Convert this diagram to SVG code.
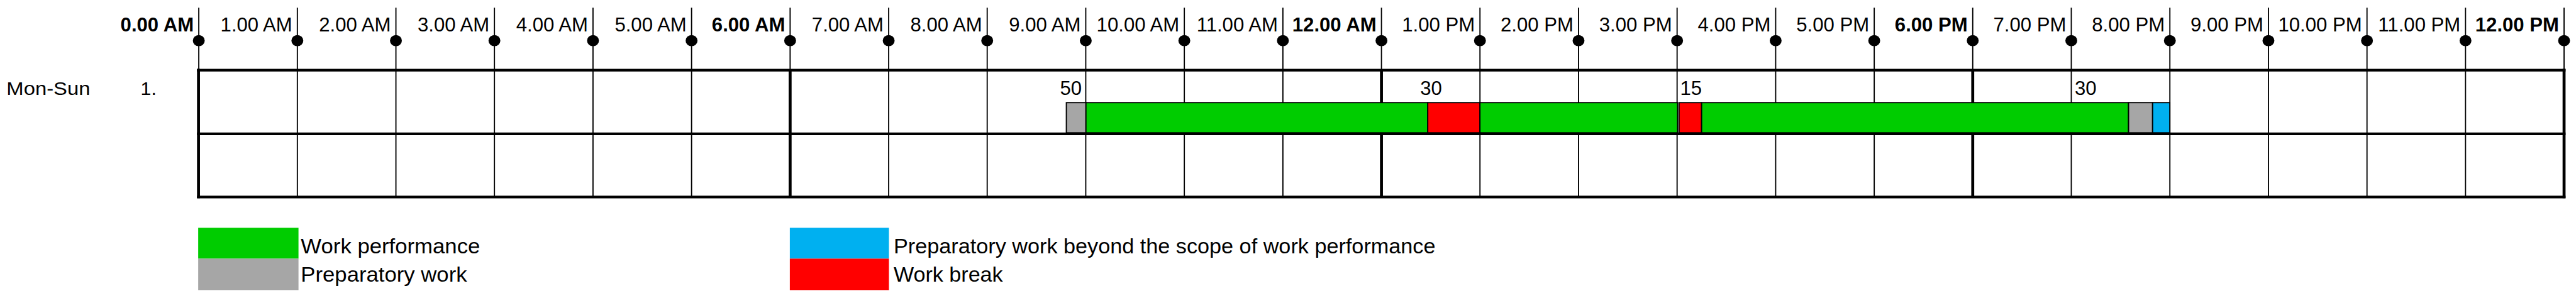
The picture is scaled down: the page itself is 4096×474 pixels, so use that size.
<svg xmlns="http://www.w3.org/2000/svg" width="4096" height="474" viewBox="0 0 4096 474">
<style>
text{font-family:"Liberation Sans",Arial,sans-serif;fill:#000}
.hl{font-size:33px;text-anchor:end}
.b{font-weight:bold}
.num{font-size:33px;text-anchor:end}
.lg{font-size:35px}
.tick{stroke:#000;stroke-width:2}
.vt{stroke:#000;stroke-width:2}
.vk{stroke:#000;stroke-width:5}
.hz{stroke:#000;stroke-width:4.5}
.seg{stroke:#000;stroke-width:2}
.g{fill:#00CC00}.p{fill:#A6A6A6}.r{fill:#FF0000}.c{fill:#00B0F0}
</style>
<rect x="0" y="0" width="4096" height="474" fill="#fff"/>
<g transform="scale(0.94356)">
<g id="row-label">
<text x="11" y="160" font-size="32" textLength="141" lengthAdjust="spacingAndGlyphs">Mon-Sun</text>
<text x="237" y="160" font-size="32">1.</text>
</g>
<g id="time-axis">
<g class="tick">
<line x1="335" y1="13" x2="335" y2="118"/><line x1="501.1" y1="13" x2="501.1" y2="118"/><line x1="667.2" y1="13" x2="667.2" y2="118"/><line x1="833.2" y1="13" x2="833.2" y2="118"/><line x1="999.3" y1="13" x2="999.3" y2="118"/><line x1="1165.4" y1="13" x2="1165.4" y2="118"/><line x1="1331.5" y1="13" x2="1331.5" y2="118"/><line x1="1497.6" y1="13" x2="1497.6" y2="118"/><line x1="1663.6" y1="13" x2="1663.6" y2="118"/><line x1="1829.7" y1="13" x2="1829.7" y2="118"/><line x1="1995.8" y1="13" x2="1995.8" y2="118"/><line x1="2161.9" y1="13" x2="2161.9" y2="118"/><line x1="2328" y1="13" x2="2328" y2="118"/><line x1="2494" y1="13" x2="2494" y2="118"/><line x1="2660.1" y1="13" x2="2660.1" y2="118"/><line x1="2826.2" y1="13" x2="2826.2" y2="118"/><line x1="2992.3" y1="13" x2="2992.3" y2="118"/><line x1="3158.4" y1="13" x2="3158.4" y2="118"/><line x1="3324.4" y1="13" x2="3324.4" y2="118"/><line x1="3490.5" y1="13" x2="3490.5" y2="118"/><line x1="3656.6" y1="13" x2="3656.6" y2="118"/><line x1="3822.7" y1="13" x2="3822.7" y2="118"/><line x1="3988.8" y1="13" x2="3988.8" y2="118"/><line x1="4154.8" y1="13" x2="4154.8" y2="118"/><line x1="4320.9" y1="13" x2="4320.9" y2="118"/>
</g>
<g fill="#000">
<ellipse cx="335" cy="68.5" rx="10" ry="9.5"/><ellipse cx="501.1" cy="68.5" rx="10" ry="9.5"/><ellipse cx="667.2" cy="68.5" rx="10" ry="9.5"/><ellipse cx="833.2" cy="68.5" rx="10" ry="9.5"/><ellipse cx="999.3" cy="68.5" rx="10" ry="9.5"/><ellipse cx="1165.4" cy="68.5" rx="10" ry="9.5"/><ellipse cx="1331.5" cy="68.5" rx="10" ry="9.5"/><ellipse cx="1497.6" cy="68.5" rx="10" ry="9.5"/><ellipse cx="1663.6" cy="68.5" rx="10" ry="9.5"/><ellipse cx="1829.7" cy="68.5" rx="10" ry="9.5"/><ellipse cx="1995.8" cy="68.5" rx="10" ry="9.5"/><ellipse cx="2161.9" cy="68.5" rx="10" ry="9.5"/><ellipse cx="2328" cy="68.5" rx="10" ry="9.5"/><ellipse cx="2494" cy="68.5" rx="10" ry="9.5"/><ellipse cx="2660.1" cy="68.5" rx="10" ry="9.5"/><ellipse cx="2826.2" cy="68.5" rx="10" ry="9.5"/><ellipse cx="2992.3" cy="68.5" rx="10" ry="9.5"/><ellipse cx="3158.4" cy="68.5" rx="10" ry="9.5"/><ellipse cx="3324.4" cy="68.5" rx="10" ry="9.5"/><ellipse cx="3490.5" cy="68.5" rx="10" ry="9.5"/><ellipse cx="3656.6" cy="68.5" rx="10" ry="9.5"/><ellipse cx="3822.7" cy="68.5" rx="10" ry="9.5"/><ellipse cx="3988.8" cy="68.5" rx="10" ry="9.5"/><ellipse cx="4154.8" cy="68.5" rx="10" ry="9.5"/><ellipse cx="4320.9" cy="68.5" rx="10" ry="9.5"/>
</g>
<g class="hl">
<text class="b" x="326.5" y="53">0.00 AM</text>
<text x="492.6" y="53">1.00 AM</text>
<text x="658.7" y="53">2.00 AM</text>
<text x="824.7" y="53">3.00 AM</text>
<text x="990.8" y="53">4.00 AM</text>
<text x="1156.9" y="53">5.00 AM</text>
<text class="b" x="1323" y="53">6.00 AM</text>
<text x="1489.1" y="53">7.00 AM</text>
<text x="1655.1" y="53">8.00 AM</text>
<text x="1821.2" y="53">9.00 AM</text>
<text x="1987.3" y="53">10.00 AM</text>
<text x="2153.4" y="53">11.00 AM</text>
<text class="b" x="2319.5" y="53">12.00 AM</text>
<text x="2485.5" y="53">1.00 PM</text>
<text x="2651.6" y="53">2.00 PM</text>
<text x="2817.7" y="53">3.00 PM</text>
<text x="2983.8" y="53">4.00 PM</text>
<text x="3149.9" y="53">5.00 PM</text>
<text class="b" x="3315.9" y="53">6.00 PM</text>
<text x="3482" y="53">7.00 PM</text>
<text x="3648.1" y="53">8.00 PM</text>
<text x="3814.2" y="53">9.00 PM</text>
<text x="3980.3" y="53">10.00 PM</text>
<text x="4146.3" y="53">11.00 PM</text>
<text class="b" x="4312.4" y="53">12.00 PM</text>
</g>
</g>
<g id="grid">
<g class="vt">
<line x1="501.1" y1="118" x2="501.1" y2="332"/><line x1="667.2" y1="118" x2="667.2" y2="332"/><line x1="833.2" y1="118" x2="833.2" y2="332"/><line x1="999.3" y1="118" x2="999.3" y2="332"/><line x1="1165.4" y1="118" x2="1165.4" y2="332"/><line x1="1497.6" y1="118" x2="1497.6" y2="332"/><line x1="1663.6" y1="118" x2="1663.6" y2="332"/><line x1="1829.7" y1="118" x2="1829.7" y2="332"/><line x1="1995.8" y1="118" x2="1995.8" y2="332"/><line x1="2161.9" y1="118" x2="2161.9" y2="332"/><line x1="2494" y1="118" x2="2494" y2="332"/><line x1="2660.1" y1="118" x2="2660.1" y2="332"/><line x1="2826.2" y1="118" x2="2826.2" y2="332"/><line x1="2992.3" y1="118" x2="2992.3" y2="332"/><line x1="3158.4" y1="118" x2="3158.4" y2="332"/><line x1="3490.5" y1="118" x2="3490.5" y2="332"/><line x1="3656.6" y1="118" x2="3656.6" y2="332"/><line x1="3822.7" y1="118" x2="3822.7" y2="332"/><line x1="3988.8" y1="118" x2="3988.8" y2="332"/><line x1="4154.8" y1="118" x2="4154.8" y2="332"/>
</g>
<g class="vk">
<line x1="334.5" y1="116" x2="334.5" y2="334"/><line x1="1331.5" y1="118" x2="1331.5" y2="332"/><line x1="2328" y1="118" x2="2328" y2="332"/><line x1="3324.4" y1="118" x2="3324.4" y2="332"/><line x1="4320.9" y1="116" x2="4320.9" y2="334"/>
</g>
</g>
<g id="bar">
<rect class="seg p" x="1797" y="173" width="33" height="51"/>
<rect class="seg g" x="1830" y="173" width="576" height="51"/>
<rect class="seg r" x="2406" y="173" width="88" height="51"/>
<rect class="seg g" x="2494" y="173" width="333" height="51"/>
<rect class="seg r" x="2829.5" y="173" width="38" height="51"/>
<rect class="seg g" x="2867.5" y="173" width="719.5" height="51"/>
<rect class="seg p" x="3587" y="173" width="40.5" height="51"/>
<rect class="seg c" x="3627.5" y="173" width="29" height="51"/>
<g class="num">
<text x="1823" y="160.5">50</text>
<text x="2430" y="160.5">30</text>
<text x="2868" y="160.5">15</text>
<text x="3533" y="160.5">30</text>
</g>
</g>
<g id="grid-rows" class="hz">
<line x1="332" y1="118.3" x2="4323.4" y2="118.3"/>
<line x1="332" y1="225.5" x2="4323.4" y2="225.5"/>
<line x1="332" y1="332" x2="4323.4" y2="332"/>
</g>
<g id="legend-work-performance">
<rect class="g" x="334" y="384" width="169" height="52"/>
<text class="lg" x="507" y="427.5" textLength="302" lengthAdjust="spacingAndGlyphs">Work performance</text>
</g>
<g id="legend-preparatory-work">
<rect class="p" x="334" y="436" width="169" height="53"/>
<text class="lg" x="507" y="475" textLength="280" lengthAdjust="spacingAndGlyphs">Preparatory work</text>
</g>
<g id="legend-preparatory-beyond">
<rect class="c" x="1331" y="384" width="167" height="52"/>
<text class="lg" x="1506" y="427.5" textLength="913" lengthAdjust="spacingAndGlyphs">Preparatory work beyond the scope of work performance</text>
</g>
<g id="legend-work-break">
<rect class="r" x="1331" y="436" width="167" height="53"/>
<text class="lg" x="1506" y="475" textLength="184" lengthAdjust="spacingAndGlyphs">Work break</text>
</g>
</g>
</svg>
